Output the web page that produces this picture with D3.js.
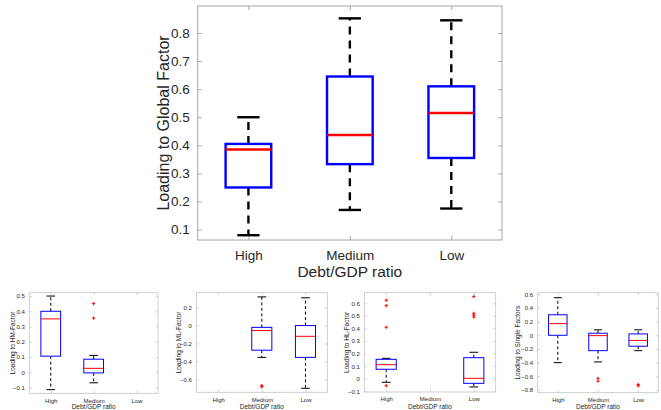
<!DOCTYPE html>
<html><head><meta charset="utf-8">
<script src="https://cdn.jsdelivr.net/npm/d3@7"></script>
<style>body{margin:0;background:#fff}svg{display:block;font-family:"Liberation Sans",Arial,sans-serif}</style>
</head><body>
<svg id="c" width="661" height="410"></svg>
<script>
// categories
const categories = ["High", "Medium", "Low"];
// box stats per category: [lowerWhisker, q1, median, q3, upperWhisker]
const globalFactor = [[0.08, 0.25, 0.385, 0.405, 0.5], [0.17, 0.333, 0.437, 0.645, 0.852], [0.175, 0.355, 0.515, 0.61, 0.845]];
const globalOutliers = [[], [], []];
const hmFactor = [[-0.115, 0.105, 0.35, 0.4, 0.5], [-0.07, -0.005, 0.025, 0.085, 0.11], null];
const hmOutliers = [[], [0.45, 0.355], []];
const mlFactor = [null, [-0.355, -0.275, -0.055, -0.02, 0.32], [-0.7, -0.355, -0.12, 0.0, 0.31]];
const mlOutliers = [[], [-0.67, -0.685], []];
const hlFactor = [[-0.029, 0.075, 0.111, 0.154, 0.162], null, [-0.066, -0.037, 0.003, 0.167, 0.21]];
const hlOutliers = [[0.624, 0.581, 0.409, -0.056], [], [0.653, 0.52, 0.505, 0.49]];
const singleFactors = [[-0.4, 0.0, 0.17, 0.3, 0.55], [-0.39, -0.225, -0.005, 0.03, 0.08], [-0.225, -0.16, -0.075, 0.02, 0.08]];
const singleOutliers = [[], [-0.63, -0.67], [-0.72, -0.74]];
// tick labels
const globalTicks = [0.1, 0.2, 0.3, 0.4, 0.5, 0.6, 0.7, 0.8];
const hmTicks = [-0.1, 0, 0.1, 0.2, 0.3, 0.4, 0.5];
const mlTicks = [-0.6, -0.4, -0.2, 0, 0.2];
const hlTicks = [-0.1, 0, 0.1, 0.2, 0.3, 0.4, 0.5, 0.6];
const singleTicks = [-0.8, -0.6, -0.4, -0.2, 0, 0.2, 0.4, 0.6];
const xTitle = "Debt/GDP ratio";

const svg = d3.select("#c");

const panels = [
  {stats: globalFactor, out: globalOutliers, ticks: globalTicks, label: "Loading to Global Factor",
   box: [197.7, 502, 6, 240], dom: [0.063, 0.896], big: true, labelX: 163},
  {stats: hmFactor, out: hmOutliers, ticks: hmTicks, label: "Loading to HM-Factor",
   box: [29.3, 158, 292.7, 393.3], dom: [-0.139, 0.522], big: false, labelX: 12},
  {stats: mlFactor, out: mlOutliers, ticks: mlTicks, label: "Loading to ML-Factor",
   box: [196.3, 327.3, 292.7, 392.3], dom: [-0.745, 0.367], big: false, labelX: 178.5},
  {stats: hlFactor, out: hlOutliers, ticks: hlTicks, label: "Loading to HL-Factor",
   box: [364.3, 495.7, 292.7, 392], dom: [-0.106, 0.684], big: false, labelX: 346.7},
  {stats: singleFactors, out: singleOutliers, ticks: singleTicks, label: "Loading to Single Factors",
   box: [537.7, 658.3, 292.7, 392.7], dom: [-0.84, 0.623], big: false, labelX: 517}
];

function fmt(v){ return Math.abs(v) < 1e-9 ? "0" : d3.format("")(+v.toFixed(2)); }

panels.forEach(p => {
  const [x0, x1, y0, y1] = p.box;
  const B = p.big;
  const x = d3.scaleLinear().domain([0.5, 3.5]).range([x0, x1]);
  const y = d3.scaleLinear().domain(p.dom).range([y1, y0]);
  const g = svg.append("g");
  const tickLen = B ? 4 : 2.5;
  const axisCol = B ? "#a6a6a6" : "#c4c4c4";
  const txtCol = "#262626";

  // frame
  g.append("rect").attr("x", x0).attr("y", y0).attr("width", x1 - x0).attr("height", y1 - y0)
    .attr("fill", "none").attr("stroke", axisCol).attr("stroke-width", B ? 1 : 0.8);

  // y axis (left) and right ticks
  const yAxis = d3.axisLeft(y).tickValues(p.ticks).tickSize(-tickLen).tickPadding(B ? 8 : 4.5).tickFormat(fmt);
  const ya = g.append("g").attr("transform", `translate(${x0},0)`).call(yAxis);
  const yAxisR = d3.axisRight(y).tickValues(p.ticks).tickSize(-tickLen).tickFormat("");
  const yr = g.append("g").attr("transform", `translate(${x1},0)`).call(yAxisR);
  // x axis
  const xAxis = d3.axisBottom(x).tickValues([1, 2, 3]).tickSize(-tickLen).tickPadding(B ? 10 : 5)
    .tickFormat((d, i) => categories[i]);
  const xa = g.append("g").attr("transform", `translate(0,${y1})`).call(xAxis);
  const xAxisT = d3.axisTop(x).tickValues([1, 2, 3]).tickSize(-tickLen).tickFormat("");
  const xt = g.append("g").attr("transform", `translate(0,${y0})`).call(xAxisT);
  [ya, yr, xa, xt].forEach(a => {
    a.select(".domain").remove();
    a.selectAll(".tick line").attr("stroke", axisCol).attr("stroke-width", B ? 1 : 0.8);
    a.selectAll("text").attr("fill", txtCol).attr("font-size", B ? 13.5 : 6);
  });

  // y label
  g.append("text").attr("transform", `translate(${p.labelX},${(y0 + y1) / 2}) rotate(-90)`)
    .attr("text-anchor", "middle").attr("dominant-baseline", "central")
    .attr("fill", txtCol).attr("font-size", B ? 16 : 6.5).text(p.label);
  // x title
  g.append("text").attr("x", (x0 + x1) / 2).attr("y", B ? 277 : 409)
    .attr("text-anchor", "middle").attr("fill", txtCol).attr("font-size", B ? 15.5 : 6.5).text(xTitle);

  const bw = B ? 0.45 : 0.46, cw = B ? 0.22 : 0.2;
  const lw = B ? 2.4 : 1;
  p.stats.forEach((s, i) => {
    if (!s) return;
    const c = i + 1;
    const [lo, q1, med, q3, hi] = s;
    // whiskers
    [[q3, hi], [q1, lo]].forEach(([a, b]) => {
      g.append("line").attr("x1", x(c)).attr("x2", x(c)).attr("y1", y(a)).attr("y2", y(b))
        .attr("stroke", "#000").attr("stroke-width", lw)
        .attr("stroke-dasharray", B ? "8,6" : "3,2.5");
    });
    // caps
    [lo, hi].forEach(v => {
      g.append("line").attr("x1", x(c - cw / 2)).attr("x2", x(c + cw / 2)).attr("y1", y(v)).attr("y2", y(v))
        .attr("stroke", "#000").attr("stroke-width", lw);
    });
    // box
    g.append("rect").attr("x", x(c - bw / 2)).attr("width", x(c + bw / 2) - x(c - bw / 2))
      .attr("y", y(q3)).attr("height", y(q1) - y(q3))
      .attr("fill", "#fff").attr("stroke", "#0000ff").attr("stroke-width", lw);
    // median
    g.append("line").attr("x1", x(c - bw / 2)).attr("x2", x(c + bw / 2)).attr("y1", y(med)).attr("y2", y(med))
      .attr("stroke", "#ff0000").attr("stroke-width", lw);
  });
  // outliers (red plus)
  p.out.forEach((arr, i) => {
    arr.forEach(v => {
      const cx = x(i + 1), cy = y(v), r = B ? 3 : 1.6;
      g.append("path").attr("d", `M${cx - r},${cy}H${cx + r}M${cx},${cy - r}V${cy + r}`)
        .attr("stroke", "#ff0000").attr("stroke-width", 1).attr("fill", "none");
    });
  });
});
</script>
</body></html>
